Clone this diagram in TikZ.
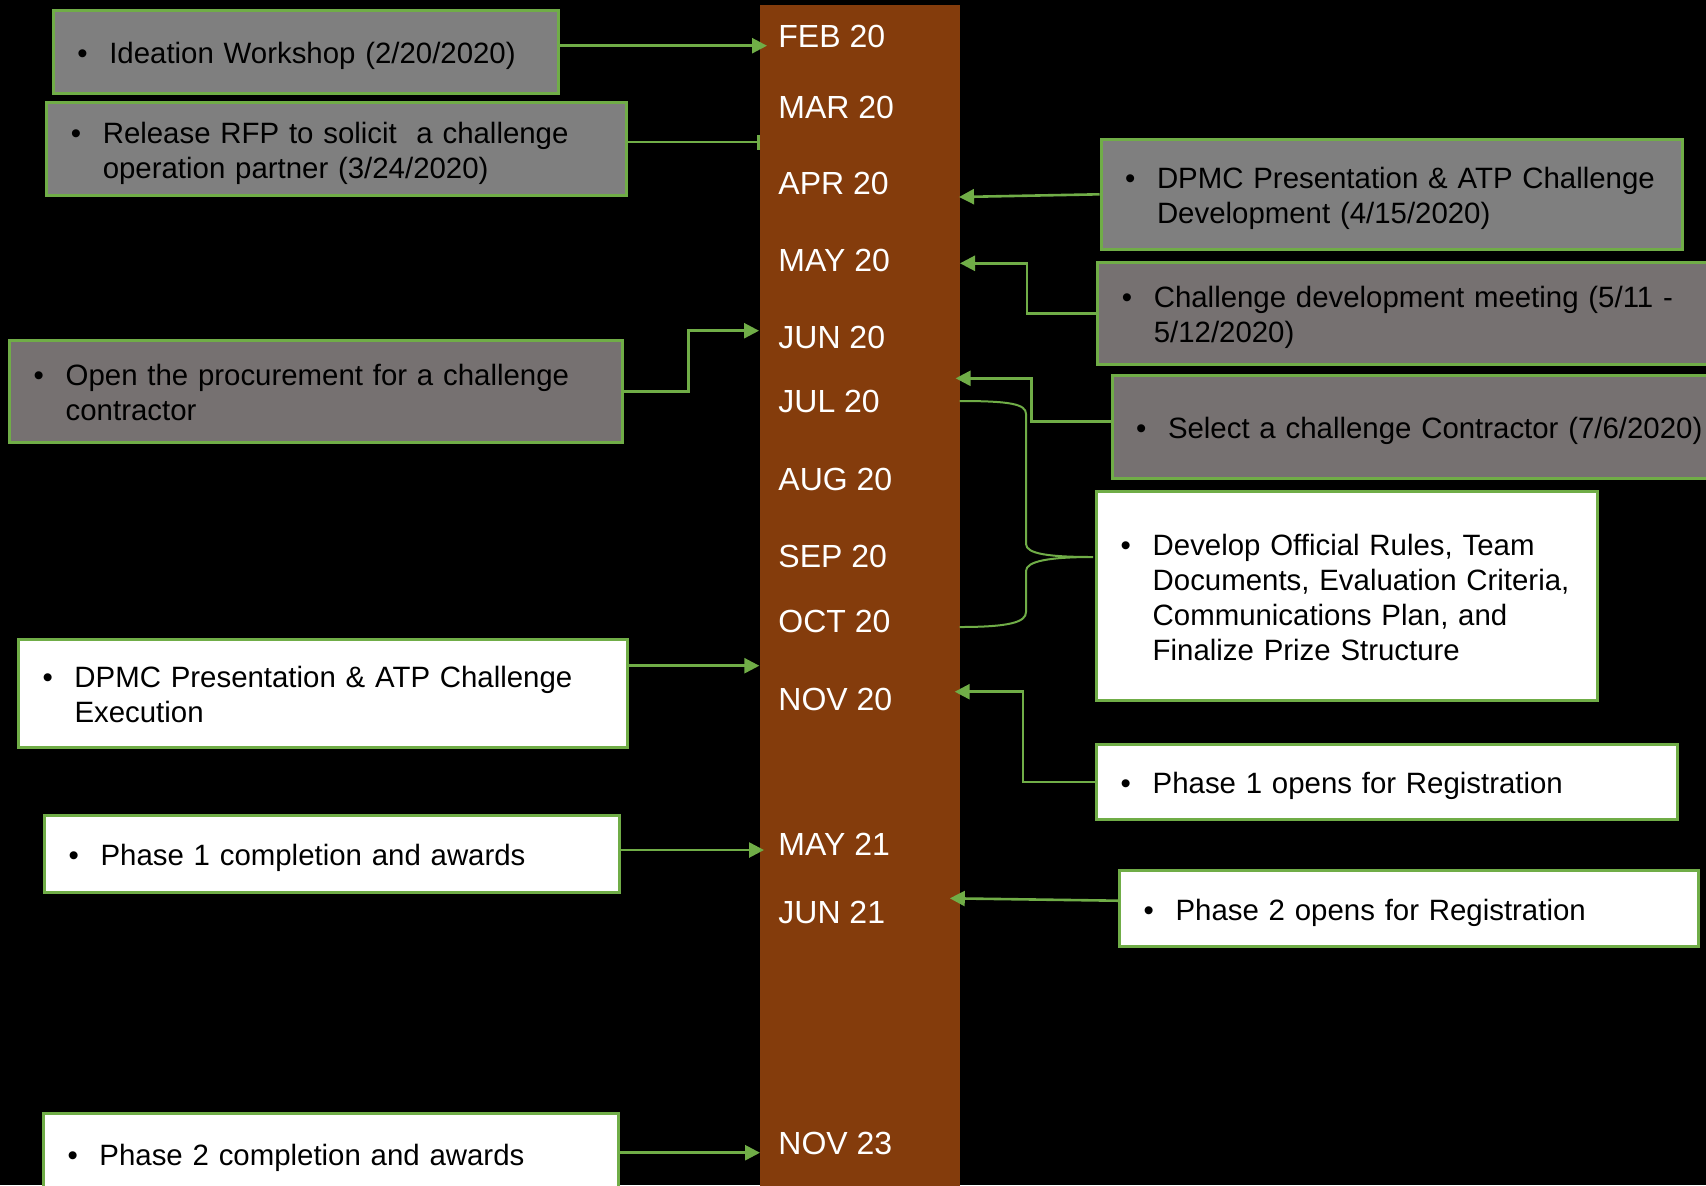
\documentclass[tikz,border=0pt]{standalone}
\usepackage{fontspec}
\setmainfont{Liberation Sans}
\usetikzlibrary{arrows.meta}
\definecolor{tlgreen}{HTML}{70AD47}
\definecolor{tlbrown}{HTML}{843C0C}
\definecolor{tlgray}{HTML}{7F7F7F}
\definecolor{tldark}{HTML}{767171}
\newcommand\bul[1]{\makebox[16pt][l]{\rule{0pt}{16.9pt}\textbullet}\begin{tabular}[t]{@{}l@{}}#1\end{tabular}}
\tikzset{
	evbox/.style={draw=tlgreen, line width=1.5pt, inner xsep=12pt, inner ysep=0pt, align=left, font=\fontsize{14.7}{17.6}\selectfont},
	evgray/.style={evbox, fill=tlgray},
	evdark/.style={evbox, fill=tldark},
	evwhite/.style={evbox, fill=white},
	month/.style={anchor=west, inner sep=0pt, text=white, font=\fontsize{16}{19}\selectfont},
	evarrow/.style={draw=tlgreen, line width=1.3pt, -{Triangle[length=7.5pt,width=7.5pt]}},
}

\begin{document}
\begin{tikzpicture}[x=0.5pt, y=-0.5pt]
		%%%%% START %%%%%
		\clip (0,0) rectangle (1706,1185);
		\fill[black] (0,0) rectangle (1706,1185);
		
		% timeline bar
		\node[fill=tlbrown, minimum width=100pt, minimum height=592.3pt, inner sep=0pt] (bar) at (859.6,597.7) {};
		\foreach \mname/\mlabel/\my in {feb20/FEB 20/36.7, mar20/MAR 20/107.5, apr20/APR 20/183.3, may20/MAY 20/260,
			jun20/JUN 20/337, jul20/JUL 20/401.7, aug20/AUG 20/479.5, sep20/SEP 20/556.5, oct20/OCT 20/621.7,
			nov20/NOV 20/699.2, may21/MAY 21/844.3, jun21/JUN 21/912.5, nov23/NOV 23/1143.7}
			\node[month] (\mname) at (778,\my) {\mlabel};
		
		% left side
		\node[evgray, minimum height=41.4pt, text width=228.4pt] (ideation) at (305.7,52.3) {\bul{Ideation Workshop (2/20/2020)}};
		\node[evgray, minimum height=46.8pt, text width=266pt] (rfp) at (336.8,149) {\bul{Release RFP to solicit~ a challenge\\operation partner (3/24/2020)}};
		\node[evdark, minimum height=51.2pt, text width=282.3pt] (procure) at (316,391.7) {\bul{Open the procurement for a challenge\\contractor}};
		\node[evwhite, minimum height=53.9pt, text width=280.7pt] (dpmcexec) at (323.2,693.6) {\bul{DPMC Presentation \& ATP Challenge\\Execution}};
		\node[evwhite, minimum height=38.6pt, text width=263.3pt] (p1done) at (331.9,853.6) {\bul{Phase 1 completion and awards}};
		\node[evwhite, minimum height=40.5pt, text width=263.3pt] (p2done) at (330.8,1153.5) {\bul{Phase 2 completion and awards}};
		
		% right side
		\node[evgray, minimum height=55pt, text width=266.5pt] (dpmcdev) at (1391.5,194.3) {\bul{DPMC Presentation \& ATP Challenge\\Development (4/15/2020)}};
		\node[evdark, minimum height=51.2pt, text width=292.1pt] (cdm) at (1413.9,313.4) {\bul{Challenge development meeting (5/11 -\\5/12/2020)}};
		\node[evdark, minimum height=51.7pt, text width=285pt] (select) at (1421,427) {\bul{Select a challenge Contractor (7/6/2020)}};
		\node[evwhite, minimum height=104.5pt, text width=226.3pt] (rules) at (1347,596.3) {\bul{Develop Official Rules, Team\\Documents, Evaluation Criteria,\\Communications Plan, and\\Finalize Prize Structure}};
		\node[evwhite, minimum height=37.6pt, text width=266.5pt] (p1open) at (1387.2,781.8) {\bul{Phase 1 opens for Registration}};
		\node[evwhite, minimum height=38.1pt, text width=265.4pt] (p2open) at (1409,908.5) {\bul{Phase 2 opens for Registration}};
		
		% arrow tips on the bar
		\coordinate (t-feb) at (767,45.7);
		\coordinate (t-mar) at (760,142);
		\coordinate (t-apr) at (959,197);
		\coordinate (t-may) at (960,263.3);
		\coordinate (t-jun) at (759,330.7);
		\coordinate (t-jul) at (955.6,378.3);
		\coordinate (t-nov) at (759.3,665.7);
		\coordinate (t-nov2) at (954.7,691.7);
		\coordinate (t-may21) at (764,850);
		\coordinate (t-jun21) at (949.8,898.3);
		\coordinate (t-nov23) at (760,1152.7);
		
		\draw[evarrow] (ideation.east |- t-feb) -- (t-feb);
		\draw[tlgreen, line width=1.3pt, -{Bar[width=7.5pt]}] (rfp.east |- t-mar) -- (t-mar);
		\draw[evarrow] (dpmcdev.west) -- (t-apr);
		\draw[evarrow] (cdm.west) -- ++(-69.4,0) |- (t-may);
		\draw[evarrow] (procure.east) -- ++(64.7,0) |- (t-jun);
		\draw[evarrow] ([yshift=2.7pt]select.west) -- ++(-79.3,0) |- (t-jul);
		\draw[evarrow] (dpmcexec.east |- t-nov) -- (t-nov);
		\draw[evarrow] (p1open.west) -- ++(-72.2,0) |- (t-nov2);
		\draw[evarrow] (p1done.east |- t-may21) -- (t-may21);
		\draw[evarrow] ([yshift=3.9pt]p2open.west) -- (t-jun21);
		\draw[evarrow] (p2done.east |- t-nov23) -- (t-nov23);
		
		% brace JUL 20 - OCT 20
		\draw[tlgreen, line width=1pt] (959.6,401) .. controls (1010,401) and (1026,404) .. (1026,414) -- (1026,544)
			.. controls (1026,554) and (1050,557) .. (1093,557) .. controls (1050,557) and (1026,561) .. (1026,571)
			-- (1026,612) .. controls (1026,622) and (1010,627) .. (959.6,627);
		
		%%%%% END %%%%%
\end{tikzpicture}
\end{document}
